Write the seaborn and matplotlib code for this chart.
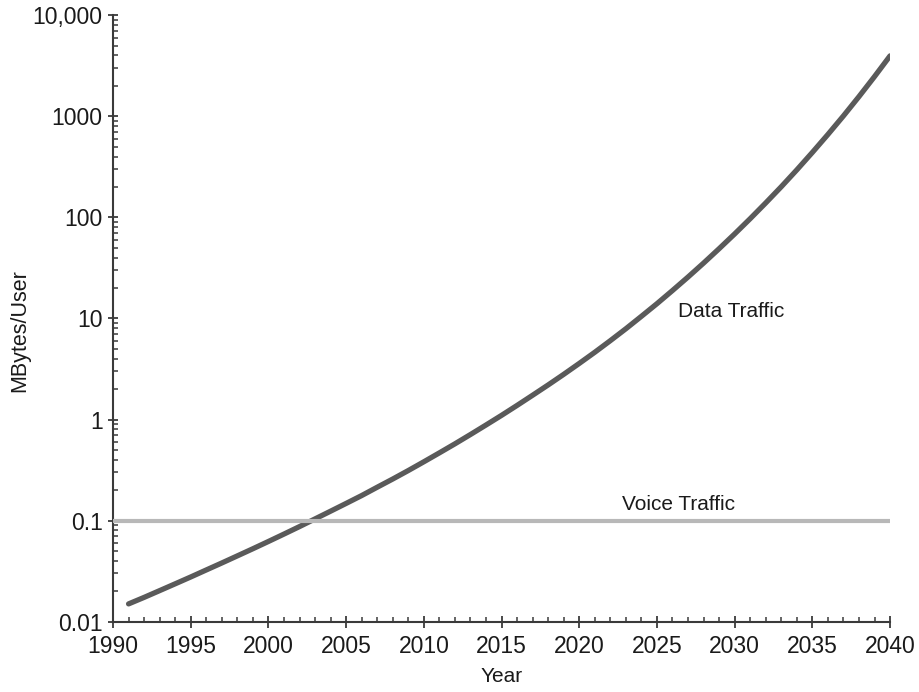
import matplotlib
matplotlib.use("Agg")
import matplotlib.pyplot as plt
import seaborn as sns
from matplotlib.ticker import FixedLocator, FixedFormatter, LogLocator, MultipleLocator, NullFormatter

# Traffic per user (MBytes/User), log scale
years = list(range(1991, 2041))
data_traffic = [0.0150, 0.0174, 0.0203, 0.0237, 0.0277, 0.0325, 0.0381, 0.0448, 0.0527,
                0.0622, 0.0736, 0.0873, 0.104, 0.124, 0.148, 0.177, 0.214, 0.258, 0.313,
                0.382, 0.468, 0.575, 0.711, 0.883, 1.10, 1.38, 1.74, 2.20, 2.80, 3.59,
                4.63, 6.03, 7.91, 10.5, 14.0, 18.9, 25.7, 35.3, 49.0, 68.6, 97.1, 139,
                201, 295, 439, 661, 1009, 1567, 2472, 3963]

voice_years = [1990, 2040]
voice_traffic = [0.1, 0.1]

y_ticks = [0.01, 0.1, 1, 10, 100, 1000, 10000]
y_tick_labels = ["0.01", "0.1", "1", "10", "100", "1000", "10,000"]
x_ticks = [1990, 1995, 2000, 2005, 2010, 2015, 2020, 2025, 2030, 2035, 2040]

sns.set_theme(style="ticks")
plt.rcParams["font.family"] = ["Liberation Sans", "DejaVu Sans"]

fig = plt.figure(figsize=(9.19, 6.92), dpi=100)
ax = fig.add_axes([0.123, 0.1016, 0.8455, 0.8764])

sns.lineplot(x=years, y=data_traffic, ax=ax, color="#5a5a5a", linewidth=3.8,
             solid_capstyle="round", zorder=3)
sns.lineplot(x=voice_years, y=voice_traffic, ax=ax, color="#b8b8b8", linewidth=3.0,
             solid_capstyle="butt", zorder=4)

ax.set_yscale("log")
ax.set_xlim(1990, 2040)
ax.set_ylim(0.01, 10000)

ax.yaxis.set_major_locator(FixedLocator(y_ticks))
ax.yaxis.set_major_formatter(FixedFormatter(y_tick_labels))
ax.yaxis.set_minor_locator(LogLocator(base=10, subs=range(2, 10), numticks=20))
ax.yaxis.set_minor_formatter(NullFormatter())
ax.xaxis.set_major_locator(FixedLocator(x_ticks))
ax.xaxis.set_minor_locator(MultipleLocator(1))

for side in ("top", "right"):
    ax.spines[side].set_visible(False)
for side in ("left", "bottom"):
    ax.spines[side].set_color("#3a3a3a")
    ax.spines[side].set_linewidth(1.5)

ax.tick_params(axis="y", which="major", direction="inout", length=7, width=1.3,
               color="#3a3a3a", labelsize=16.5, pad=4, labelcolor="#1a1a1a")
ax.tick_params(axis="y", which="minor", direction="in", length=3.5, width=1.1,
               color="#3a3a3a")
ax.tick_params(axis="x", which="major", direction="inout", length=9, width=1.3,
               color="#3a3a3a", labelsize=16.5, pad=5, labelcolor="#1a1a1a")
ax.tick_params(axis="x", which="minor", direction="in", length=3.5, width=1.1,
               color="#3a3a3a")

ax.set_xlabel("Year", fontsize=15, color="#1a1a1a")
ax.xaxis.label.set_va("center")
ax.xaxis.set_label_coords(0.5, -0.091)
ax.set_ylabel("MBytes/User", fontsize=15.5, color="#1a1a1a")
ax.yaxis.label.set_va("center")
ax.yaxis.set_label_coords(-0.12, 0.48)

ax.text(2029.8, 11.6, "Data Traffic", fontsize=15, ha="center", va="center",
        color="#1a1a1a")
ax.text(2026.4, 0.143, "Voice Traffic", fontsize=15, ha="center", va="center",
        color="#1a1a1a")

fig.savefig("out.png", dpi=100, facecolor="white")
